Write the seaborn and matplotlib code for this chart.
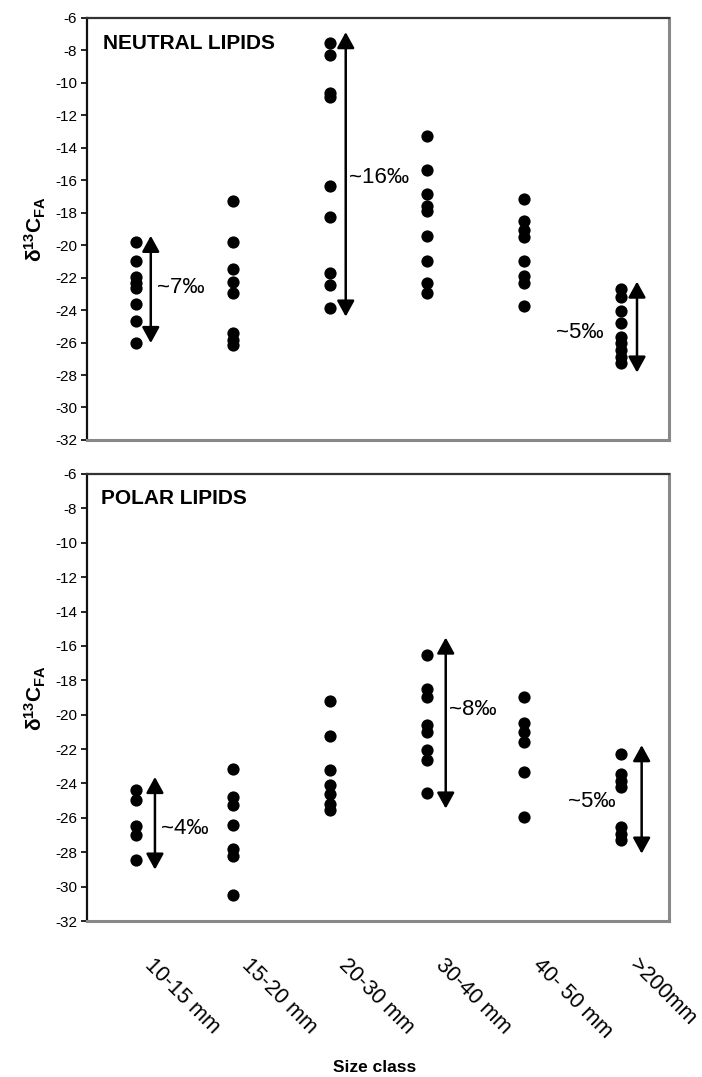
import numpy as np
import pandas as pd
import matplotlib
matplotlib.use("Agg")
import matplotlib.pyplot as plt
import matplotlib.transforms as mtransforms
import seaborn as sns

# ---------------- data ----------------
categories = ["10-15 mm", "15-20 mm", "20-30 mm", "30-40 mm", "40- 50 mm", ">200mm"]

neutral = [
    [-19.83, -20.96, -21.93, -22.30, -22.65, -23.60, -24.65, -26.05],
    [-17.26, -19.83, -21.48, -22.24, -22.96, -25.39, -25.84, -26.15],
    [-7.52, -8.31, -10.61, -10.86, -16.38, -18.29, -21.72, -22.46, -23.88],
    [-13.29, -15.35, -16.85, -17.61, -17.92, -19.42, -20.96, -22.34, -22.96],
    [-17.15, -18.53, -19.05, -19.50, -20.96, -21.89, -22.34, -23.74],
    [-22.71, -23.17, -24.03, -24.77, -25.64, -26.05, -26.46, -26.87, -27.28],
]

polar = [
    [-24.35, -24.94, -26.49, -27.01, -28.47],
    [-23.17, -24.78, -25.27, -26.43, -27.79, -28.24, -30.50],
    [-19.19, -21.25, -23.19, -24.10, -24.59, -25.17, -25.56],
    [-16.54, -18.48, -18.96, -20.61, -21.00, -22.07, -22.65, -24.55],
    [-18.96, -20.51, -21.00, -21.58, -23.33, -25.95],
    [-22.30, -23.43, -23.85, -24.20, -26.53, -26.92, -27.30],
]

# range arrows: (category index, top value, bottom value, label)
neutral_arrow_cat = [0, 2, 5]
neutral_arrow_top = [-19.42, -6.87, -22.24]
neutral_arrow_bot = [-26.03, -24.40, -27.85]
neutral_arrow_lab = ["~7‰", "~16‰", "~5‰"]

polar_arrow_cat = [0, 3, 5]
polar_arrow_top = [-23.62, -15.51, -21.77]
polar_arrow_bot = [-29.01, -25.46, -28.08]
polar_arrow_lab = ["~4‰", "~8‰", "~5‰"]

yticks = list(range(-6, -33, -2))


def long_df(groups):
    rows = []
    for cat, vals in zip(categories, groups):
        for v in vals:
            rows.append({"size": cat, "d13C": v})
    return pd.DataFrame(rows)


df_neutral = long_df(neutral)
df_polar = long_df(polar)

# ---------------- style ----------------
sns.set_theme(style="white")
plt.rcParams["font.family"] = ["Liberation Sans", "DejaVu Sans"]
plt.rcParams["text.color"] = "black"
plt.rcParams["axes.labelcolor"] = "black"
plt.rcParams["xtick.color"] = "black"
plt.rcParams["ytick.color"] = "black"
plt.rcParams["mathtext.fontset"] = "custom"
plt.rcParams["mathtext.bf"] = "Liberation Sans:bold"
plt.rcParams["mathtext.rm"] = "Liberation Sans:bold"
plt.rcParams["mathtext.default"] = "bf"

fig = plt.figure(figsize=(7.02, 10.77), dpi=100)
fig.patch.set_facecolor("white")

ax_top = fig.add_axes([0.124, 0.5915, 0.829, 0.3918])
ax_bot = fig.add_axes([0.124, 0.1448, 0.829, 0.4151])


def style_axes(ax, show_xlabels):
    ax.set_ylim(-32, -6)
    ax.set_xlim(-0.5, len(categories) - 0.5)
    ax.set_yticks(yticks)
    ax.set_yticklabels([str(t) for t in yticks], fontsize=11)
    ax.tick_params(axis="y", direction="out", length=4, width=1.2, color="black",
                   left=True, pad=3)
    ax.tick_params(axis="x", length=0)
    ax.spines["left"].set_color("#111111")
    ax.spines["left"].set_linewidth(1.6)
    ax.spines["top"].set_color("#333333")
    ax.spines["top"].set_linewidth(1.6)
    ax.spines["right"].set_color("#888888")
    ax.spines["right"].set_linewidth(2.2)
    ax.spines["bottom"].set_color("#888888")
    ax.spines["bottom"].set_linewidth(2.2)
    for s in ax.spines.values():
        s.set_visible(True)
    ax.set_xlabel("")
    ax.set_ylabel(r"$\delta^{13}C_{FA}$", fontsize=15, labelpad=5)
    if not show_xlabels:
        ax.set_xticklabels([])
    else:
        ax.set_xticks(range(len(categories)))
        ax.set_xticklabels(categories, rotation=-45, ha="left", va="top",
                           rotation_mode="anchor", fontsize=15.5)
        ax.tick_params(axis="x", pad=24)
        offset = mtransforms.ScaledTranslation(0.2, 0, fig.dpi_scale_trans)
        for lab in ax.get_xticklabels():
            lab.set_transform(lab.get_transform() + offset)


def draw_arrows(ax, cats, tops, bots, labs, offsets, lab_pos, lab_ha):
    for c, t, b, lab, off, (lx, ly), ha in zip(cats, tops, bots, labs, offsets, lab_pos, lab_ha):
        ax.annotate("", xy=(c + off, t), xytext=(c + off, b),
                    arrowprops=dict(arrowstyle="<|-|>,head_length=0.4,head_width=0.22",
                                    mutation_scale=24, lw=1.8, color="black",
                                    shrinkA=0, shrinkB=0))
        ax.text(lx, ly, lab, ha=ha, va="center", fontsize=16, color="black")


sns.stripplot(data=df_neutral, x="size", y="d13C", order=categories, jitter=False,
              color="black", size=8.8, linewidth=0, ax=ax_top)
sns.stripplot(data=df_polar, x="size", y="d13C", order=categories, jitter=False,
              color="black", size=8.8, linewidth=0, ax=ax_bot)

style_axes(ax_top, False)
style_axes(ax_bot, True)

draw_arrows(ax_top, neutral_arrow_cat, neutral_arrow_top, neutral_arrow_bot,
            neutral_arrow_lab, [0.157, 0.167, 0.17],
            [(0.225, -22.6), (2.205, -15.8), (4.83, -25.4)], ["left", "left", "right"])
draw_arrows(ax_bot, polar_arrow_cat, polar_arrow_top, polar_arrow_bot,
            polar_arrow_lab, [0.2, 0.198, 0.218],
            [(0.26, -26.6), (3.235, -19.7), (4.95, -25.07)], ["left", "left", "right"])

ax_top.text(0.027, 0.962, "NEUTRAL LIPIDS", transform=ax_top.transAxes,
            ha="left", va="top", fontsize=15, fontweight="bold")
ax_bot.text(0.024, 0.967, "POLAR LIPIDS", transform=ax_bot.transAxes,
            ha="left", va="top", fontsize=15, fontweight="bold")

fig.text(0.534, 0.0085, "Size class", ha="center", va="center", fontsize=12.5,
         fontweight="bold")

fig.savefig("out.png", dpi=100, facecolor="white")
